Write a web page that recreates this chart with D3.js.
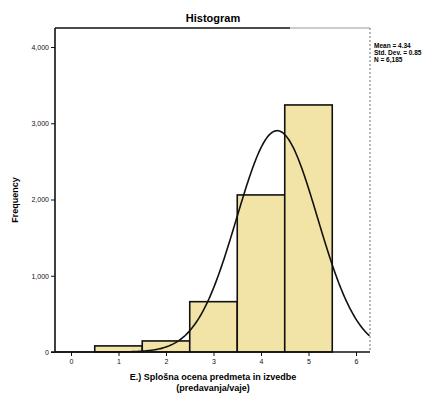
<!DOCTYPE html>
<html>
<head>
<meta charset="utf-8">
<script src="https://cdn.jsdelivr.net/npm/d3@7"></script>
<style>
  body { margin: 0; background: #fff; }
  svg { display: block; font-family: "Liberation Sans", Arial, sans-serif; }
</style>
</head>
<body>
<svg id="chart" width="431" height="401"></svg>
<script>
// grade values (bin centres) and counts
const grades = [1, 2, 3, 4, 5];
const counts = [80, 145, 660, 2060, 3240];
const yTicks = [0, 1000, 2000, 3000, 4000];
const xTicks = [0, 1, 2, 3, 4, 5, 6];
const statLines = ['Mean = 4.34', 'Std. Dev. = 0.85', 'N = 6,185'];
// fitted normal curve parameters (as printed in the legend)
const mean = 4.34, stdDev = 0.85, nTotal = 6185;

const svg = d3.select('#chart');
const plotLeft = 55, plotRight = 370, plotTop = 28, plotBottom = 352;

const x = d3.scaleLinear().domain([0, 6]).range([71, 356]);
const y = d3.scaleLinear().domain([0, 4000]).range([plotBottom, 47]);

// title
svg.append('text')
  .attr('x', 213).attr('y', 22)
  .attr('text-anchor', 'middle')
  .style('font-size', '11px').style('font-weight', 'bold')
  .text('Histogram');

// bars
svg.append('g').selectAll('rect').data(grades)
  .enter().append('rect')
  .attr('x', d => x(d - 0.5))
  .attr('width', d => x(d + 0.5) - x(d - 0.5))
  .attr('y', (d, i) => y(counts[i]))
  .attr('height', (d, i) => plotBottom - y(counts[i]))
  .attr('fill', '#f2e4a6')
  .attr('stroke', '#111')
  .attr('stroke-width', 1.6);

// normal curve
const xs = d3.range(x.invert(plotLeft), x.invert(plotRight) + 0.001, 0.02);
const density = v => nTotal / (stdDev * Math.sqrt(2 * Math.PI)) *
  Math.exp(-0.5 * Math.pow((v - mean) / stdDev, 2));
svg.append('path')
  .datum(xs)
  .attr('fill', 'none')
  .attr('stroke', '#111')
  .attr('stroke-width', 1.6)
  .attr('d', d3.line().x(d => x(d)).y(d => y(density(d))));

// frame
svg.append('line')
  .attr('x1', plotLeft).attr('y1', plotTop).attr('x2', 290).attr('y2', plotTop)
  .style('stroke', '#111').style('stroke-width', 1.6);
svg.append('line')
  .attr('x1', 290).attr('y1', plotTop).attr('x2', plotRight).attr('y2', plotTop)
  .style('stroke', '#bbb').style('stroke-width', 1.6);
svg.append('line')
  .attr('x1', plotRight).attr('y1', plotTop).attr('x2', plotRight).attr('y2', plotBottom)
  .style('stroke', '#888').style('stroke-width', 1.2)
  .style('stroke-dasharray', '2,2');

// axes
const yAxis = svg.append('g')
  .attr('transform', `translate(${plotLeft},0)`)
  .call(d3.axisLeft(y).tickValues(yTicks).tickSize(4).tickPadding(2)
    .tickFormat(d3.format(',')));
yAxis.select('.domain').attr('d', `M0,${plotTop}V${plotBottom}`)
  .style('stroke', '#111').style('stroke-width', 1.6);

const xAxis = svg.append('g')
  .attr('transform', `translate(0,${plotBottom})`)
  .call(d3.axisBottom(x).tickValues(xTicks).tickSize(4).tickPadding(3)
    .tickFormat(d3.format('d')));
xAxis.select('.domain').attr('d', `M${plotLeft - 4},0H${plotRight}`)
  .style('stroke', '#111').style('stroke-width', 1.6);

svg.selectAll('.tick text')
  .style('font-size', '7px').style('font-family', '"Liberation Sans", Arial, sans-serif')
  .attr('fill', '#111');
svg.selectAll('.tick line').style('stroke', '#111');

// axis titles
svg.append('text')
  .attr('transform', 'translate(18,200) rotate(-90)')
  .attr('text-anchor', 'middle')
  .style('font-size', '9px').style('font-weight', 'bold')
  .text('Frequency');

svg.append('text')
  .attr('x', 213).attr('y', 380)
  .attr('text-anchor', 'middle')
  .style('font-size', '9px').style('font-weight', 'bold')
  .text('E.) Splošna ocena predmeta in izvedbe');
svg.append('text')
  .attr('x', 213).attr('y', 391)
  .attr('text-anchor', 'middle')
  .style('font-size', '9px').style('font-weight', 'bold')
  .text('(predavanja/vaje)');

// legend stats
svg.append('g').selectAll('text').data(statLines)
  .enter().append('text')
  .attr('x', 374)
  .attr('y', (d, i) => 48 + i * 7)
  .style('font-size', '6.5px').style('font-weight', 'bold')
  .text(d => d);
</script>
</body>
</html>
